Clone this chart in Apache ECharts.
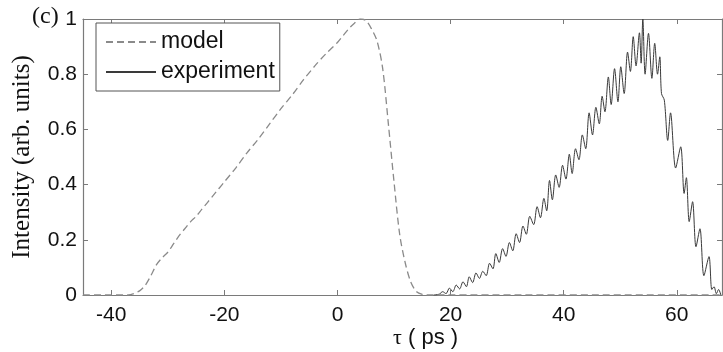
<!DOCTYPE html>
<html>
<head>
<meta charset="utf-8">
<script src="https://cdn.jsdelivr.net/npm/echarts@6/dist/echarts.min.js"></script>
<style>html,body{margin:0;padding:0;background:#fff;}#c{width:723px;height:352px;}</style>
</head>
<body>
<div id="c"></div>
<script>
// tick labels
var xTicks = [-40, -20, 0, 20, 40, 60];
var yTicks = [0, 0.2, 0.4, 0.6, 0.8, 1];
var seriesNames = ['model', 'experiment'];

// model (dashed)
var modelT = [-45, -37, -36, -35, -34, -33, -32, -31, -30, -29, -28, -27, -26, -25, -24, -23, -22, -21, -20, -18, -16, -14, -12, -10, -8, -6, -4, -2, 0, 1, 2, 3, 4, 5, 6, 7, 8, 9, 10, 11, 12, 13, 14, 15, 16, 68];
var modelI = [0, 0, 0.005, 0.015, 0.035, 0.07, 0.11, 0.135, 0.155, 0.185, 0.215, 0.24, 0.265, 0.285, 0.31, 0.335, 0.36, 0.385, 0.41, 0.46, 0.515, 0.565, 0.62, 0.675, 0.725, 0.78, 0.83, 0.875, 0.915, 0.94, 0.965, 0.985, 1.0, 0.995, 0.965, 0.92, 0.82, 0.62, 0.41, 0.22, 0.115, 0.045, 0.012, 0.002, 0, 0];

// experiment (solid)
var expT = [17.0, 18.0, 18.6, 19.2, 19.8, 20.4, 21.0, 21.6, 22.2, 22.8, 23.3, 23.9, 24.5, 25.1, 25.7, 26.3, 26.9, 27.5, 28.0, 28.6, 29.2, 29.8, 30.4, 31.0, 31.6, 32.2, 32.8, 33.4, 34.0, 34.7, 35.3, 35.9, 36.5, 37.0, 37.5, 38.0, 38.6, 39.2, 39.8, 40.4, 41.0, 41.5, 42.1, 42.7, 43.3, 43.9, 44.5, 45.1, 45.7, 46.3, 46.8, 47.3, 47.9, 48.4, 49.0, 49.6, 50.1, 50.7, 51.3, 51.8, 52.3, 52.8, 53.4, 53.7, 54.0, 54.4, 55.0, 55.6, 56.1, 56.6, 57.0, 57.3, 57.8, 58.4, 58.9, 59.8, 60.7, 61.3, 61.7, 62.2, 62.8, 63.4, 64.1, 64.8, 65.7, 66.2, 66.6, 67.0, 67.4, 67.8];
var expI = [0, 0.003, 0.012, 0.005, 0.025, 0.012, 0.036, 0.022, 0.048, 0.030, 0.066, 0.045, 0.080, 0.060, 0.086, 0.070, 0.115, 0.095, 0.150, 0.118, 0.168, 0.140, 0.190, 0.160, 0.222, 0.190, 0.250, 0.220, 0.285, 0.255, 0.320, 0.280, 0.350, 0.305, 0.415, 0.345, 0.435, 0.390, 0.470, 0.420, 0.510, 0.440, 0.530, 0.490, 0.580, 0.530, 0.660, 0.580, 0.680, 0.620, 0.720, 0.664, 0.790, 0.690, 0.820, 0.700, 0.827, 0.730, 0.880, 0.810, 0.936, 0.830, 0.950, 0.840, 1.000, 0.800, 0.948, 0.785, 0.912, 0.800, 0.863, 0.730, 0.706, 0.560, 0.660, 0.460, 0.537, 0.368, 0.425, 0.266, 0.338, 0.175, 0.240, 0.070, 0.139, 0.020, 0.030, 0.005, 0.020, 0.000];

function pairs(a, b) { var r = []; for (var i = 0; i < a.length; i++) r.push([a[i], b[i]]); return r; }

var chart = echarts.init(document.getElementById('c'), null, {renderer: 'canvas'});
var frame = '#7a7a7a';
var sans = '"Liberation Sans", Arial, sans-serif';
var serif = '"Liberation Serif", "Times New Roman", serif';
var xMin = -45, xMax = 68;

chart.setOption({
  animation: false,
  backgroundColor: '#ffffff',
  grid: {left: 83, top: 19, right: 1, bottom: 57, show: false},
  legend: {
    orient: 'vertical', left: 96, top: 23,
    data: seriesNames,
    backgroundColor: '#ffffff', borderColor: '#555', borderWidth: 1,
    padding: [7, 5, 7, 9], itemGap: 6, itemWidth: 50, itemHeight: 14,
    itemStyle: {opacity: 0},
    textStyle: {fontFamily: sans, fontSize: 23, color: '#111', lineHeight: 24}
  },
  graphic: [
    {type: 'text', left: 32, top: 5, style: {text: '(c)', font: '24px ' + serif, fill: '#111'}},
    {type: 'text', left: 393, top: 327, style: {
      text: '{t|τ}{p| ( ps )}',
      rich: {t: {fontFamily: serif, fontSize: 22, fill: '#111'}, p: {fontFamily: sans, fontSize: 22, fill: '#111'}}
    }}
  ],
  xAxis: [
    {type: 'value', min: xMin, max: xMax, position: 'bottom',
     axisLine: {onZero: false, lineStyle: {color: frame, width: 1.2}},
     axisTick: {inside: true, length: 5, customValues: xTicks, lineStyle: {color: frame}},
     axisLabel: {customValues: xTicks, margin: 10, fontFamily: sans, fontSize: 21, color: '#111'},
     splitLine: {show: false}},
    {type: 'value', min: xMin, max: xMax, position: 'top',
     axisLine: {onZero: false, lineStyle: {color: frame, width: 1.2}},
     axisTick: {inside: true, length: 5, customValues: xTicks, lineStyle: {color: frame}},
     axisLabel: {show: false}, splitLine: {show: false}}
  ],
  yAxis: [
    {type: 'value', min: 0, max: 1, interval: 0.2, position: 'left',
     axisLine: {show: true, onZero: false, lineStyle: {color: frame, width: 1.2}},
     axisTick: {show: true, inside: true, length: 5, lineStyle: {color: frame}},
     axisLabel: {margin: 6, fontFamily: sans, fontSize: 21, color: '#111',
       formatter: function (v) { return String(Math.round(v * 10) / 10); }},
     splitLine: {show: false},
     name: 'Intensity (arb. units)', nameLocation: 'middle', nameGap: 48, nameRotate: 90,
     nameTextStyle: {fontFamily: serif, fontSize: 25, color: '#111'}},
    {type: 'value', min: 0, max: 1, interval: 0.2, position: 'right',
     axisLine: {show: true, onZero: false, lineStyle: {color: frame, width: 1.2}},
     axisTick: {show: true, inside: true, length: 5, lineStyle: {color: frame}},
     axisLabel: {show: false}, splitLine: {show: false}}
  ],
  series: [
    {name: seriesNames[0], type: 'line', xAxisIndex: 0, yAxisIndex: 0, data: pairs(modelT, modelI),
     symbol: 'none', smooth: 0.3, lineStyle: {color: '#8a8a8a', width: 1.3, type: [7, 4]}, itemStyle: {color: '#8a8a8a'}, z: 3},
    {name: seriesNames[1], type: 'line', xAxisIndex: 0, yAxisIndex: 0, data: pairs(expT, expI),
     symbol: 'none', smooth: 0.3, lineStyle: {color: '#3a3a3a', width: 1}, itemStyle: {color: '#3a3a3a'}, z: 2}
  ]
});
</script>
</body>
</html>
